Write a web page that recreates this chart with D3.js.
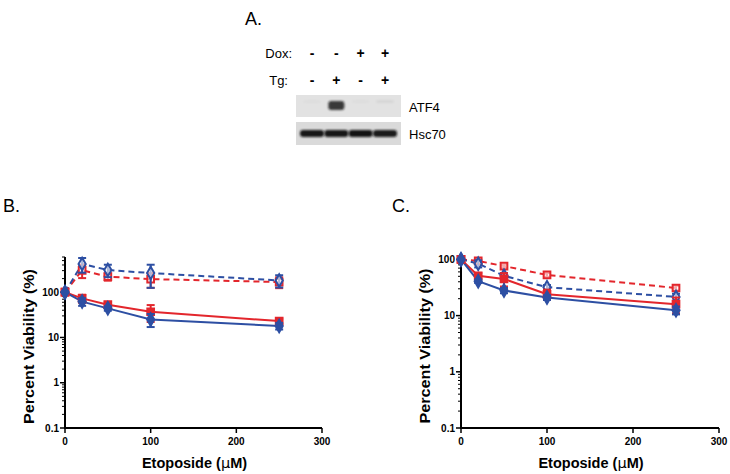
<!DOCTYPE html>
<html><head><meta charset="utf-8">
<script src="https://cdn.jsdelivr.net/npm/d3@7"></script>
<style>body{margin:0;background:#fff}svg{display:block;font-family:"Liberation Sans",Arial,sans-serif}</style>
</head><body>
<svg id="c" width="730" height="474"></svg>
<script>
// ---- data ----
const doses = [0, 20, 50, 100, 250];
const xTicks = [0, 100, 200, 300];
const yTickLabels = ["0.1", "1", "10", "100"];
const lanesDox = ["-", "-", "+", "+"];
const lanesTg = ["-", "+", "-", "+"];
const blotLabels = ["ATF4", "Hsc70"];
const atf4Intensity = [0.02, 0.85, 0.02, 0.06];
const hscIntensity = [0.95, 0.95, 0.97, 0.93];

// Panel B
const bRedSolid = [100, 73, 53, 37, 23];
const bRedSolidErr = [5, 15, 8, 15, 3];
const bBlueSolid = [100, 62, 44, 25, 18];
const bBlueSolidErr = [5, 12, 5, 8, 3];
const bBlueDash = [100, 420, 310, 265, 182];
const bBlueDashErr = [5, 150, 95, 140, 55];
const bRedDash = [100, 305, 220, 195, 168];
const bRedDashErr = [5, 100, 40, 70, 45];

// Panel C
const cRedSolid = [100, 51, 45, 24, 16];
const cRedSolidErr = [3, 6, 12, 5, 5];
const cBlueSolid = [100, 41, 28, 21, 12.5];
const cBlueSolidErr = [3, 3, 3, 2, 2];
const cBlueDash = [100, 84, 51, 32, 21.5];
const cBlueDashErr = [3, 12, 6, 3, 3];
const cRedDash = [100, 94, 76, 53, 31];
const cRedDashErr = [4, 5, 5, 4, 3];

const RED = "#e3262c", BLUE = "#2d4fa3";
const svg = d3.select("#c");

// ---- Panel letters ----
svg.append("text").attr("x", 245).attr("y", 25).attr("font-size", 18).text("A.");
svg.append("text").attr("x", 3).attr("y", 212).attr("font-size", 18).text("B.");
svg.append("text").attr("x", 392).attr("y", 212).attr("font-size", 18).text("C.");

// ---- Western blot ----
const laneX = d3.scalePoint().domain(d3.range(4)).range([312, 385]);
const defs = svg.append("defs");
defs.append("filter").attr("id", "blur").attr("x", "-50%").attr("y", "-50%").attr("width", "200%").attr("height", "200%")
  .append("feGaussianBlur").attr("stdDeviation", 1.2);
svg.append("text").attr("x", 292).attr("y", 58).attr("font-size", 13).attr("text-anchor", "end").text("Dox:");
svg.append("text").attr("x", 288).attr("y", 85).attr("font-size", 13).attr("text-anchor", "end").text("Tg:");
svg.selectAll(".dox").data(lanesDox).join("text").attr("x", (d, i) => laneX(i)).attr("y", 58)
  .attr("font-size", 14).attr("font-weight", "bold").attr("text-anchor", "middle").text(d => d);
svg.selectAll(".tg").data(lanesTg).join("text").attr("x", (d, i) => laneX(i)).attr("y", 85)
  .attr("font-size", 14).attr("font-weight", "bold").attr("text-anchor", "middle").text(d => d);
// ATF4 panel
svg.append("rect").attr("x", 296).attr("y", 95).attr("width", 105).attr("height", 22).attr("fill", "#e2e2e2");
svg.selectAll(".atf").data(atf4Intensity).join("rect")
  .attr("x", (d, i) => laneX(i) - (i === 1 ? 8 : 9)).attr("y", (d, i) => i === 1 ? 101 : 100).attr("width", (d, i) => i === 1 ? 16 : 18).attr("height", (d, i) => i === 1 ? 9 : 3)
  .attr("rx", 3).attr("fill", "#1a1a1a").attr("opacity", d => d).attr("filter", "url(#blur)");
svg.append("rect").attr("x", 296).attr("y", 122).attr("width", 105).attr("height", 23).attr("fill", "#dadada");
svg.selectAll(".hsc").data(hscIntensity).join("rect")
  .attr("x", (d, i) => laneX(i) - 12).attr("y", 130).attr("width", 24).attr("height", 7)
  .attr("rx", 3).attr("fill", "#111").attr("opacity", d => d).attr("filter", "url(#blur)");
svg.append("text").attr("x", 409).attr("y", 112).attr("font-size", 13).text(blotLabels[0]);
svg.append("text").attr("x", 409).attr("y", 139).attr("font-size", 13).text(blotLabels[1]);

// ---- chart helper ----
function panel(opt) {
  const x = d3.scaleLinear().domain([0, 300]).range([opt.x0, opt.x1]);
  const y = d3.scaleLog().domain([0.1, opt.ymax]).range([428, opt.ytop]);
  const g = svg.append("g");
  const minors = [];
  for (let e = -1; e <= 2; e++) for (let m = 2; m <= 9; m++) { const v = m * Math.pow(10, e); if (v <= opt.ymax) minors.push(v); }
  g.selectAll(".ymin").data(minors).join("line").attr("x1", opt.x0 - 3).attr("x2", opt.x0)
    .attr("y1", d => y(d)).attr("y2", d => y(d)).attr("stroke", "#000").attr("stroke-width", 1);
  const majors = yTickLabels.map(Number);
  g.selectAll(".ymaj").data(majors).join("line").attr("x1", opt.x0 - 5).attr("x2", opt.x0)
    .attr("y1", d => y(d)).attr("y2", d => y(d)).attr("stroke", "#000").attr("stroke-width", 1.5);
  g.selectAll(".ylab").data(yTickLabels).join("text").attr("x", opt.x0 - 6).attr("y", d => y(+d) + 3.5)
    .attr("text-anchor", "end").attr("font-size", 10).attr("font-weight", "bold").text(d => d);
  g.selectAll(".xmaj").data(xTicks).join("line").attr("x1", d => x(d)).attr("x2", d => x(d))
    .attr("y1", 428).attr("y2", 433).attr("stroke", "#000").attr("stroke-width", 1.5);
  g.selectAll(".xlab").data(xTicks).join("text").attr("x", d => x(d)).attr("y", 445)
    .attr("text-anchor", "middle").attr("font-size", 10).attr("font-weight", "bold").text(d => d);
  g.append("line").attr("x1", opt.x0).attr("x2", opt.x0).attr("y1", opt.ytop).attr("y2", 429).attr("stroke", "#000").attr("stroke-width", 2);
  g.append("line").attr("x1", opt.x0 - 1).attr("x2", opt.x1).attr("y1", 428).attr("y2", 428).attr("stroke", "#000").attr("stroke-width", 2);
  const xt = g.append("text").attr("x", (opt.x0 + opt.x1) / 2 + 1).attr("y", 468).attr("text-anchor", "middle")
    .attr("font-size", 14.5).attr("font-weight", "bold");
  xt.append("tspan").text("Etoposide (");
  xt.append("tspan").attr("font-family", "DejaVu Sans").attr("font-weight", "normal").text("μ");
  xt.append("tspan").text("M)");
  g.append("text").attr("transform", `translate(${opt.x0 - 31},${(428 + opt.ytop) / 2 + 4}) rotate(-90)`)
    .attr("text-anchor", "middle").attr("font-size", 14.5).attr("font-weight", "bold")
    .attr("textLength", 155).attr("lengthAdjust", "spacingAndGlyphs").text("Percent Viability (%)");

  const line = d3.line().x((d, i) => x(doses[i])).y(d => y(d));
  const series = opt.series;
  series.forEach(s => {
    g.append("path").datum(s.v).attr("d", line).attr("fill", "none").attr("stroke", s.c)
      .attr("stroke-width", 2).attr("stroke-dasharray", s.dash ? "6,4" : null);
  });
  series.forEach(s => {
    const eg = g.append("g").attr("stroke", s.c).attr("stroke-width", 2);
    s.v.forEach((v, i) => {
      const hi = y(v + s.e[i]), lo = y(Math.max(v - s.e[i], 0.11)), cx = x(doses[i]);
      eg.append("line").attr("x1", cx).attr("x2", cx).attr("y1", hi).attr("y2", lo);
      eg.append("line").attr("x1", cx - 4).attr("x2", cx + 4).attr("y1", hi).attr("y2", hi);
      eg.append("line").attr("x1", cx - 4).attr("x2", cx + 4).attr("y1", lo).attr("y2", lo);
    });
    const sym = d3.symbol().type(s.shape === "sq" ? d3.symbolSquare : d3.symbolDiamond).size(s.shape === "sq" ? 45 : 45);
    g.selectAll(null).data(s.v).join("path")
      .attr("transform", (d, i) => `translate(${x(doses[i])},${y(d)})`)
      .attr("d", sym).attr("fill", s.open ? "#fff" : s.c).attr("fill-opacity", s.open ? 0.6 : 1)
      .attr("stroke", s.c).attr("stroke-width", 2);
  });
}

panel({x0: 65, x1: 322, ymax: 600, ytop: 257, series: [
  {v: bRedDash, e: bRedDashErr, c: RED, dash: true, shape: "sq", open: true},
  {v: bBlueDash, e: bBlueDashErr, c: BLUE, dash: true, shape: "di", open: true},
  {v: bRedSolid, e: bRedSolidErr, c: RED, dash: false, shape: "sq", open: false},
  {v: bBlueSolid, e: bBlueSolidErr, c: BLUE, dash: false, shape: "di", open: false}
]});
panel({x0: 461, x1: 719, ymax: 115, ytop: 256, series: [
  {v: cRedDash, e: cRedDashErr, c: RED, dash: true, shape: "sq", open: true},
  {v: cBlueDash, e: cBlueDashErr, c: BLUE, dash: true, shape: "di", open: true},
  {v: cRedSolid, e: cRedSolidErr, c: RED, dash: false, shape: "sq", open: false},
  {v: cBlueSolid, e: cBlueSolidErr, c: BLUE, dash: false, shape: "di", open: false}
]});
</script>
</body></html>
